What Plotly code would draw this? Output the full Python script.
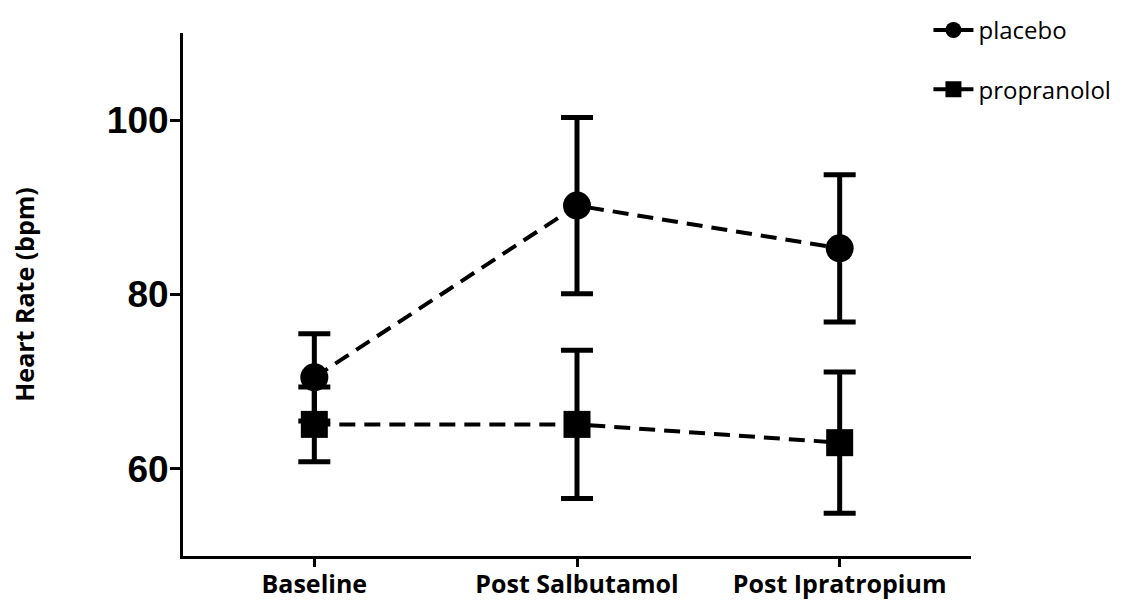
import plotly.graph_objects as go

categories = ["Baseline", "Post Salbutamol", "Post Ipratropium"]
placebo = [70.5, 90.2, 85.3]
placebo_err = [5.0, 10.1, 8.45]
propranolol = [65.1, 65.1, 63.0]
propranolol_err = [4.3, 8.5, 8.1]
y_ticks = [60, 80, 100]

fig = go.Figure()
fig.add_trace(go.Scatter(
    x=categories, y=placebo, name="placebo", mode="lines+markers",
    line=dict(color="black", width=4, dash="16px,9px"),
    marker=dict(symbol="circle", size=28, color="black"),
    error_y=dict(type="data", array=placebo_err, visible=True, color="black", thickness=5, width=16),
    legendgroup="a",
))
fig.add_trace(go.Scatter(
    x=categories, y=propranolol, name="propranolol", mode="lines+markers",
    line=dict(color="black", width=4, dash="16px,9px"),
    marker=dict(symbol="square", size=27, color="black"),
    error_y=dict(type="data", array=propranolol_err, visible=True, color="black", thickness=5, width=16),
    legendgroup="b",
))

fig.update_layout(
    width=1128, height=601,
    margin=dict(l=183, r=157, t=33, b=45, autoexpand=False),
    plot_bgcolor="white", paper_bgcolor="white",
    showlegend=True,
    legend=dict(x=0.946, y=1.048, xanchor="left", yanchor="top",
                font=dict(family="Open Sans", size=24, color="black"),
                tracegroupgap=25, itemwidth=40, itemsizing="trace",
                bgcolor="rgba(0,0,0,0)"),
    xaxis=dict(
        type="category", range=[-0.5, 2.5],
        showline=True, linecolor="black", linewidth=3,
        ticks="outside", ticklen=8, tickwidth=3, tickcolor="black",
        showgrid=False, zeroline=False, ticklabelstandoff=-4,
        tickfont=dict(family="Open Sans", size=25, color="black", weight="bold"),
    ),
    yaxis=dict(
        range=[50, 110], tickvals=y_ticks,
        showline=True, linecolor="black", linewidth=3,
        ticks="outside", ticklen=10, tickwidth=3, tickcolor="black",
        showgrid=False, zeroline=False, ticklabelstandoff=-6,
        tickfont=dict(family="Liberation Sans", size=37, color="black", weight="bold"),
        title=dict(text="Heart Rate (bpm)", standoff=66,
                   font=dict(family="Open Sans", size=25, color="black", weight="bold")),
    ),
)

fig.write_html("out.html")
